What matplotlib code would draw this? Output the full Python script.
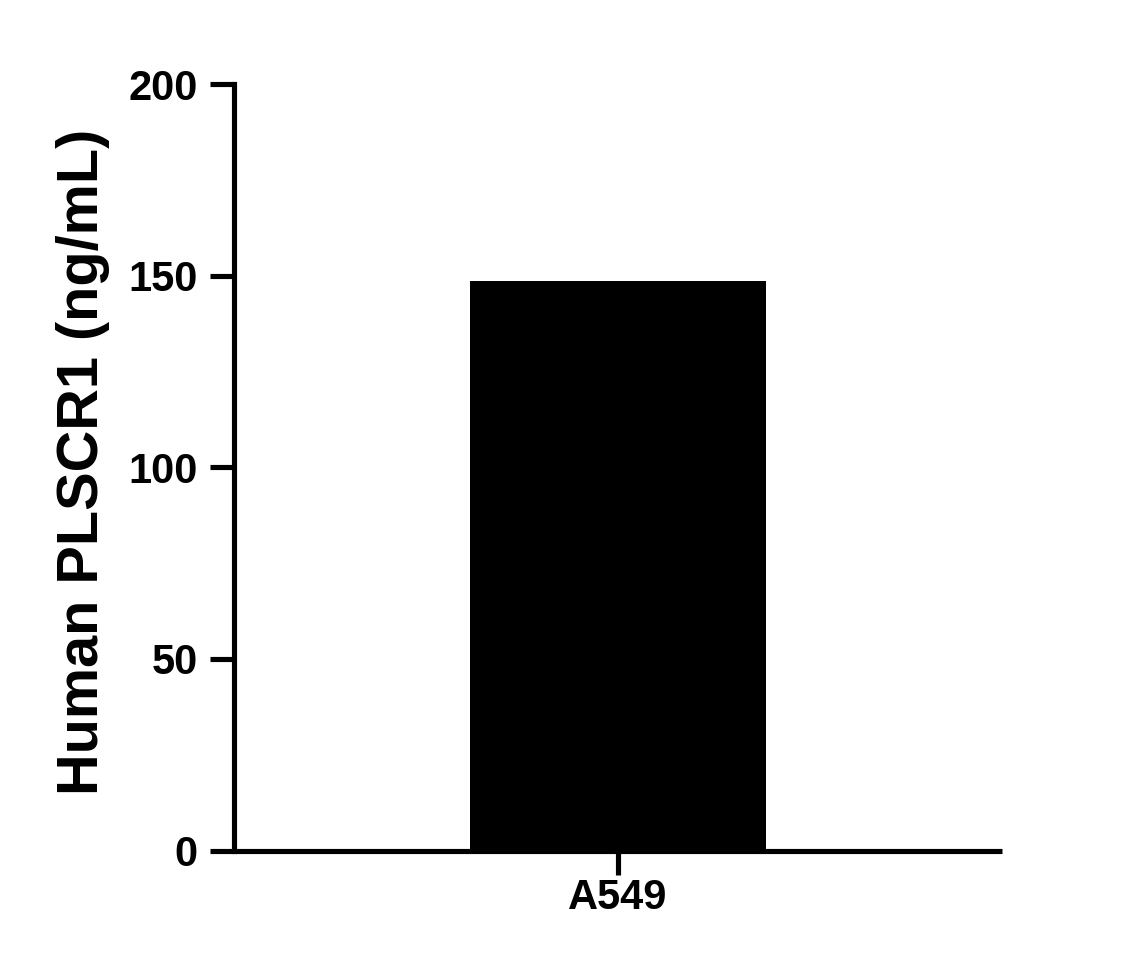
import matplotlib
matplotlib.use("Agg")
import matplotlib.pyplot as plt

categories = ["A549"]
values = [148.6]
yticks = [0, 50, 100, 150, 200]

plt.rcParams['font.family'] = ['Liberation Sans', 'DejaVu Sans']
plt.rcParams['font.weight'] = 'bold'

fig = plt.figure(figsize=(11.4, 9.68), dpi=100)
ax = fig.add_axes([234/1140, 1-850.5/968, 768/1140, 766.5/968])
x = list(range(len(categories)))
ax.bar(x, values, width=1.0, color='black', edgecolor='black', linewidth=0)
ax.set_xlim(-1.3, 1.3)
ax.set_ylim(0, 200)
ax.set_yticks(yticks)
ax.set_xticks(x)
ax.set_xticklabels(categories)
for s in ['top', 'right']:
    ax.spines[s].set_visible(False)
for s in ['left', 'bottom']:
    ax.spines[s].set_linewidth(3.7)
ax.spines['left'].set_capstyle('projecting')
ax.spines['bottom'].set_capstyle('butt')
ax.tick_params(axis='both', width=3.7, length=17, labelsize=30)
ax.tick_params(axis='y', pad=9)
ax.tick_params(axis='x', pad=3)
for lbl in ax.get_xticklabels() + ax.get_yticklabels():
    lbl.set_fontweight('bold')
ax.set_ylabel('Human PLSCR1 (ng/mL)', fontsize=41.5, fontweight='bold')
ax.yaxis.set_label_coords((110-234)/768, 0.507)
fig.savefig('out.png', dpi=100)
